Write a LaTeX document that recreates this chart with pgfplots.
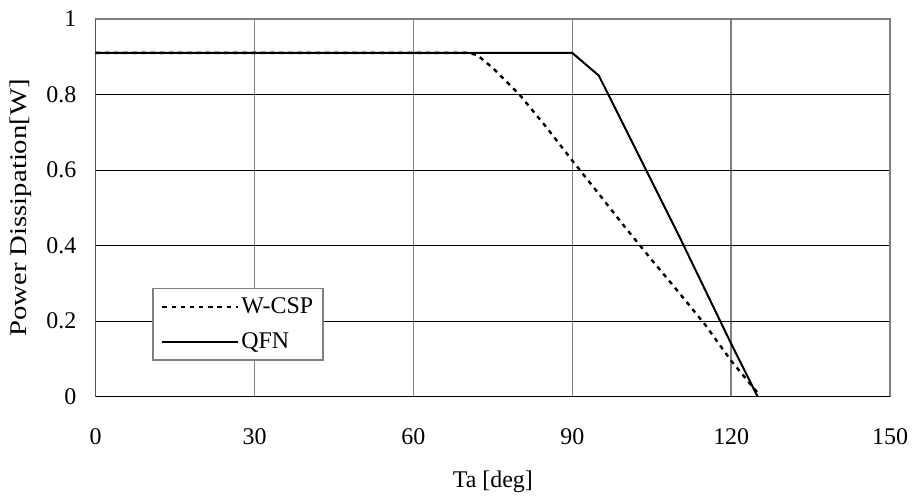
\documentclass[border=0pt]{standalone}
\usepackage{fontspec}
\setmainfont{Liberation Serif}
\usepackage{pgfplots}
\pgfplotsset{compat=1.18}
\usepackage{graphicx}

\newcommand{\lblfont}{\fontsize{12}{14}\selectfont}

\begin{document}
\begin{tikzpicture}
\begin{axis}[
  scale only axis,
  width=398.5pt, height=189.5pt,
  xmin=0, xmax=150, ymin=0, ymax=1,
  xtick={0,30,60,90,120,150},
  ytick={0,0.2,0.4,0.6,0.8,1},
  major tick length=0pt,
  /pgf/number format/assume math mode=true,
  tick label style={font=\lblfont, inner sep=0pt},
  xticklabel style={anchor=base, yshift=-24pt},
  yticklabel style={anchor=east, xshift=-9.5pt},
  grid=major,
  x grid style={draw=gray, line width=0.75pt},
  y grid style={draw=black, line width=0.5pt},
  axis line style={draw=gray, line width=0.75pt},
  xlabel={Ta [deg]},
  ylabel={\scalebox{1.2}[1]{Power Dissipation[W]}},
  every axis x label/.style={at={(axis description cs:0.5,0)}, anchor=base, yshift=-45.5pt, inner sep=0pt, font=\lblfont},
  every axis y label/.style={at={(axis description cs:0,0.5)}, rotate=90, anchor=south, yshift=32pt, inner sep=0pt, font=\lblfont},
  legend image code/.code={\draw[#1] (0pt,0pt) -- (38pt,0pt);},
  legend style={at={(axis description cs:0.0715,0.095)}, anchor=south west,
    draw=gray, line width=0.75pt, fill=white, font=\lblfont,
    inner xsep=4pt, inner ysep=3.5pt, row sep=6pt,
    nodes={inner sep=1pt, line width=0.5pt}, cells={anchor=west}},
]
\addplot[black, line width=1.2pt, dash pattern=on 2.2pt off 2.4pt] coordinates {
  (0,0.91) (70,0.91) (72,0.905) (75,0.87) (80,0.80) (85,0.715) (90,0.625)
  (95,0.537) (100,0.448) (105,0.362) (110,0.278) (115,0.192) (120,0.095) (125,0.01)
};
\addlegendentry{W-CSP}
\addplot[black, line width=1pt] coordinates {
  (0,0.91) (90,0.91) (95,0.85) (100,0.71) (105,0.57) (110,0.43)
  (115,0.285) (120,0.14) (125,0)
};
\addlegendentry{QFN}
\draw[black, line width=0.75pt] (rel axis cs:0,1) -- (rel axis cs:0,0) -- (rel axis cs:1,0);
\end{axis}
\path (-48pt,-50pt) rectangle (410.5pt,199pt);
\end{tikzpicture}
\end{document}
